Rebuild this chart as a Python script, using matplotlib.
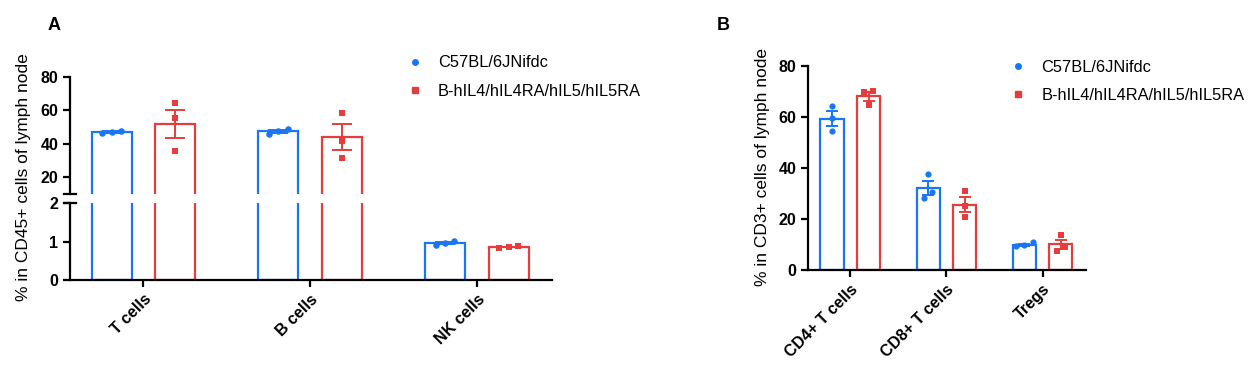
import matplotlib
matplotlib.use("Agg")
import matplotlib.pyplot as plt
from matplotlib.lines import Line2D
import numpy as np

plt.rcParams['font.family'] = ['Liberation Sans', 'DejaVu Sans']

# ---- data ----
groups = ['C57BL/6JNifdc', 'B-hIL4/hIL4RA/hIL5/hIL5RA']
colors = ['#1A76F4', '#E53D3D']

cells_a = ['T cells', 'B cells', 'NK cells']
wt_a = [[48.0, 46.5, 47.2], [48.8, 46.0, 47.5], [1.02, 0.92, 0.97]]
ko_a = [[64.6, 55.2, 35.8], [58.4, 41.8, 31.8], [0.88, 0.84, 0.85]]

cells_b = ['CD4+ T cells', 'CD8+ T cells', 'Tregs']
wt_b = [[64.1, 59.4, 54.4], [37.5, 30.5, 28.2], [10.8, 9.6, 9.3]]
ko_b = [[70.2, 69.5, 64.5], [30.8, 25.0, 20.9], [13.7, 8.9, 7.6]]

offset = 0.19
width = 0.24


def mean_sem(v):
    v = np.asarray(v)
    return v.mean(), v.std(ddof=1) / np.sqrt(len(v))


def spread(vals, thr, step):
    # push overlapping dots sideways, like a scatter-dot-plot does
    vals = np.asarray(vals)
    order = np.argsort(vals)
    dx = np.zeros(len(vals))
    clusters = [[order[0]]]
    for k in order[1:]:
        if vals[k] - vals[clusters[-1][-1]] < thr:
            clusters[-1].append(k)
        else:
            clusters.append([k])
    for c in clusters:
        n = len(c)
        for j, k in enumerate(c):
            dx[k] = (j - (n - 1) / 2) * step
    return dx


def draw_groups(ax, data_sets, capsize, ms, thr, step):
    for gi, data in enumerate(data_sets):
        sign = -1 if gi == 0 else 1
        marker = 'o' if gi == 0 else 's'
        for i, vals in enumerate(data):
            x = i + sign * offset
            m, s = mean_sem(vals)
            ax.bar(x, m, width=width, facecolor='white', edgecolor=colors[gi],
                   linewidth=1.6, zorder=2)
            ax.errorbar(x, m, yerr=s, color=colors[gi], capsize=capsize,
                        elinewidth=1.4, capthick=1.4, zorder=3)
            t = thr if max(vals) > 5 else thr / 35.0
            ax.scatter(x + spread(vals, t, step), vals, color=colors[gi],
                       marker=marker, s=ms, zorder=4, linewidths=0)


def style_ax(ax):
    for sp in ['top', 'right']:
        ax.spines[sp].set_visible(False)
    for sp in ['left', 'bottom']:
        ax.spines[sp].set_linewidth(1.6)
    ax.tick_params(width=1.6, length=5, labelsize=11.5)


fig = plt.figure(figsize=(12.54, 3.85), dpi=100)

# ---- panel A (broken axis) ----
xl = (-0.44, 2.45)
ax_top = fig.add_axes([0.0558, 0.496, 0.3844, 0.304])
ax_bot = fig.add_axes([0.0558, 0.2727, 0.3844, 0.2])
for ax in (ax_top, ax_bot):
    draw_groups(ax, [wt_a, ko_a], capsize=7.5, ms=22, thr=2.8, step=0.055)
    ax.set_xlim(*xl)
    style_ax(ax)
ax_top.set_ylim(10, 80)
ax_top.set_yticks([20, 40, 60, 80])
ax_top.spines['bottom'].set_visible(False)
ax_top.tick_params(axis='x', bottom=False, labelbottom=False)
ax_bot.set_ylim(0, 2)
ax_bot.set_yticks([0, 1, 2])
ax_bot.set_xticks(range(len(cells_a)))
ax_bot.set_xticklabels(cells_a, rotation=45, ha='right', rotation_mode='anchor',
                       fontweight='bold', fontsize=11.5)
# break marks
ax_top.plot([-0.012, 0.012], [0, 0], transform=ax_top.transAxes, color='black',
            lw=1.6, clip_on=False)
ax_bot.plot([-0.012, 0.012], [1, 1], transform=ax_bot.transAxes, color='black',
            lw=1.6, clip_on=False)
fig.text(0.0184, 0.54, '% in CD45+ cells of lymph node', rotation=90,
         ha='center', va='center', fontsize=12.5)
fig.text(0.0383, 0.935, 'A', fontsize=13, fontweight='bold', ha='left', va='center')

# ---- panel B ----
ax_b = fig.add_axes([0.6443, 0.2987, 0.2217, 0.5307])
draw_groups(ax_b, [wt_b, ko_b], capsize=4.5, ms=20, thr=2.6, step=0.085)
ax_b.set_xlim(*xl)
ax_b.set_ylim(0, 80)
ax_b.set_yticks([0, 20, 40, 60, 80])
style_ax(ax_b)
ax_b.set_xticks(range(len(cells_b)))
ax_b.set_xticklabels(cells_b, rotation=45, ha='right', rotation_mode='anchor',
                     fontweight='bold', fontsize=11.5)
fig.text(0.6077, 0.566, '% in CD3+ cells of lymph node', rotation=90,
         ha='center', va='center', fontsize=12.5)
fig.text(0.5715, 0.935, 'B', fontsize=13, fontweight='bold', ha='left', va='center')

for ax in (ax_top, ax_bot, ax_b):
    for t in ax.get_yticklabels():
        t.set_fontweight('bold')

# ---- legends ----
handles = [Line2D([], [], marker='o', ls='', color=colors[0], markersize=4),
           Line2D([], [], marker='s', ls='', color=colors[1], markersize=4)]
for bx, by in [(0.318, 0.873), (0.799, 0.861)]:
    fig.legend(handles, groups, loc='upper left', bbox_to_anchor=(bx, by),
               frameon=False, fontsize=11.8, handlelength=1.2, handletextpad=0.8,
               labelspacing=0.8, borderaxespad=0)

fig.savefig('out.png', dpi=100)
